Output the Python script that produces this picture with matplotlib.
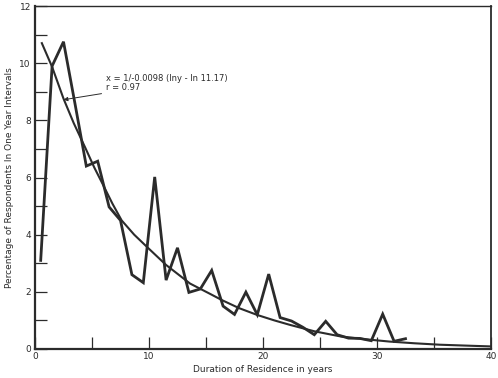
import matplotlib
matplotlib.use("Agg")
import matplotlib.pyplot as plt
from matplotlib.ticker import MultipleLocator, FixedLocator

# Observed percentages per one-year interval (midpoints)
years = [0.5, 1.5, 2.5, 3.5, 4.5, 5.5, 6.5, 7.5, 8.5, 9.5, 10.5, 11.5, 12.5,
         13.5, 14.5, 15.5, 16.5, 17.5, 18.5, 19.5, 20.5, 21.5, 22.5, 23.5,
         24.5, 25.5, 26.5, 27.5, 28.5, 29.5, 30.5, 31.5, 32.5]
percent = [3.1, 9.9, 10.75, 8.6, 6.4, 6.57, 4.97, 4.5, 2.6, 2.32, 6.02, 2.41,
           3.54, 1.98, 2.1, 2.75, 1.5, 1.21, 1.99, 1.2, 2.62, 1.1, 0.98, 0.76,
           0.5, 0.97, 0.5, 0.38, 0.37, 0.29, 1.22, 0.27, 0.36]

# Fitted curve
fit_x = [0.6, 1.5, 2.5, 3.4, 4.4, 5.2, 6.0, 6.8, 7.6, 8.7, 9.8, 11.5, 13.6,
         15.4, 16.4, 17.9, 19.5, 21.0, 22.4, 24.5, 26.8, 29.0, 31.1, 33.3,
         35.5, 37.7, 40.0]
fit_y = [10.7, 9.87, 8.76, 7.9, 7.05, 6.35, 5.72, 5.08, 4.5, 4.0, 3.58, 2.94,
         2.29, 1.92, 1.71, 1.43, 1.19, 1.0, 0.84, 0.62, 0.44, 0.34, 0.26, 0.2,
         0.15, 0.12, 0.09]

x_label_ticks = [0, 10, 20, 30, 40]
y_label_ticks = [0, 2, 4, 6, 8, 10, 12]

fig = plt.figure(figsize=(4.98, 3.78), dpi=100)
ax = fig.add_axes([35/498, 29/378, 456/498, 343/378])

ink = "#2b2b2b"
ax.plot(years, percent, color=ink, lw=2.0, solid_joinstyle="miter")
ax.plot(fit_x, fit_y, color=ink, lw=1.5)

ax.set_xlim(0, 40)
ax.set_ylim(0, 12)

ax.xaxis.set_major_locator(FixedLocator(x_label_ticks))
ax.xaxis.set_minor_locator(FixedLocator([5, 15, 25, 35]))
ax.yaxis.set_major_locator(FixedLocator(y_label_ticks))
ax.yaxis.set_minor_locator(MultipleLocator(1))

ax.tick_params(axis="both", which="both", direction="in", length=8.5,
               width=0.9, color=ink, labelsize=6.5, labelcolor=ink)
ax.tick_params(axis="x", which="both", pad=2)
ax.tick_params(axis="y", which="both", pad=3)

ax.spines["left"].set_linewidth(1.6)
ax.spines["bottom"].set_linewidth(1.6)
ax.spines["top"].set_linewidth(1.0)
ax.spines["right"].set_linewidth(1.3)
for s in ax.spines.values():
    s.set_color(ink)

ax.set_xlabel("Duration of Residence in years", fontsize=6.5, color=ink, labelpad=3)
ax.set_ylabel("Percentage of Respondents In One Year Intervals", fontsize=6.5,
              color=ink, labelpad=4)

ax.annotate("x = 1/-0.0098 (lny - ln 11.17)\nr = 0.97",
            xy=(2.5, 8.72), xytext=(6.2, 9.3),
            fontsize=6, color=ink, va="center", ha="left", linespacing=0.95,
            arrowprops=dict(arrowstyle="-|>", color=ink, lw=0.7,
                            mutation_scale=6, shrinkA=1, shrinkB=0))

fig.savefig("out.png", dpi=100)
